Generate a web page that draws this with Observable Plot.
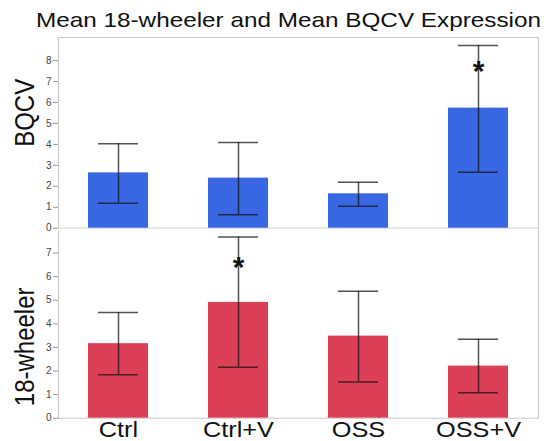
<!DOCTYPE html>
<html>
<head>
<meta charset="utf-8">
<script src="https://cdn.jsdelivr.net/npm/d3@7"></script>
<script src="https://cdn.jsdelivr.net/npm/@observablehq/plot@0.6"></script>
<style>
  body { margin: 0; background: #fff; }
  #wrap { position: relative; width: 552px; height: 441px; overflow: hidden; font-family: "Liberation Sans", Arial, sans-serif; }
  #title { position: absolute; left: 36px; top: 9px; font-size: 21px; line-height: 21px; color: #111; transform-origin: left center; white-space: nowrap; display: inline-block; }
  #top { position: absolute; left: 0; top: 30px; }
  #bottom { position: absolute; left: 0; top: 229px; }
  #top svg { overflow: visible; }
</style>
</head>
<body>
<div id="wrap">
  <span id="title">Mean 18-wheeler and Mean BQCV Expression</span>
  <div id="top"></div>
  <div id="bottom"></div>
</div>
<script>
const categories = ["Ctrl", "Ctrl+V", "OSS", "OSS+V"];

const bqcvMean = [2.64, 2.39, 1.64, 5.73];
const bqcvLow  = [1.19, 0.64, 1.05, 2.67];
const bqcvHigh = [4.03, 4.09, 2.19, 8.72];
const bqcvSig  = ["", "", "", "*"];

const wheelerMean = [3.16, 4.91, 3.48, 2.21];
const wheelerLow  = [1.84, 2.16, 1.53, 1.08];
const wheelerHigh = [4.48, 7.68, 5.38, 3.35];
const wheelerSig  = ["", "*", "", ""];

const bqcvTicks = [0, 1, 2, 3, 4, 5, 6, 7, 8];
const wheelerTicks = [0, 1, 2, 3, 4, 5, 6, 7];

const rowsOf = (mean, low, high, sig) =>
  categories.map((cat, i) => ({cat, mean: mean[i], low: low[i], high: high[i], sig: sig[i]}));

function panel({rows, label, color, domain, ticks, height, marginTop, marginBottom, showX, edgeValue, edgeColor, labelDy, sigDy}) {
  const errStyle = {stroke: "#111", strokeOpacity: 0.72, strokeWidth: 1.5};
  const svg = Plot.plot({
    width: 552, height, marginLeft: 58, marginRight: 14, marginTop, marginBottom,
    style: {background: "transparent", fontFamily: "'Liberation Sans', Arial, sans-serif"},
    x: {domain: categories, paddingInner: 0.5, paddingOuter: 0.25, axis: null},
    y: {domain, axis: null},
    marks: [
      Plot.frame({stroke: "#c6c6c6"}),
      Plot.ruleY([edgeValue], {stroke: edgeColor, strokeWidth: 2}),
      Plot.barY(rows, {x: "cat", y: "mean", fill: color}),
      Plot.ruleX(rows, {x: "cat", y1: "low", y2: "high", ...errStyle}),
      Plot.tickY(rows, {x: "cat", y: "high", inset: 10, ...errStyle}),
      Plot.tickY(rows, {x: "cat", y: "low", inset: 10, ...errStyle}),
      Plot.text(rows.filter(d => d.sig), {x: "cat", y: "high", text: "sig", dy: sigDy, fontSize: 30, fontWeight: "bold", fill: "#111"}),
      Plot.axisY({ticks, tickSize: 5, tickPadding: 2, fontSize: 10, stroke: "#999", fill: "#444", label: null}),
      showX ? Plot.axisX({tickSize: 0, tickPadding: 3, fontSize: 22, fill: "#111", label: null}) : null,
      Plot.text([label], {frameAnchor: "left", textAnchor: "middle", lineAnchor: "bottom", dx: -25, dy: labelDy, rotate: -90, fontSize: 24, fill: "#111"})
    ]
  });
  // horizontal stretch like the reference
  svg.querySelectorAll('[aria-label="x-axis tick label"] text').forEach(t => {
    t.setAttribute("transform", (t.getAttribute("transform") || "") + " scale(1.15,1)");
  });
  svg.querySelectorAll('text').forEach(t => {
    const tr = t.getAttribute("transform") || "";
    if (tr.includes("rotate(-90)")) t.setAttribute("transform", tr + " scale(1,1.12)");
  });
  return svg;
}

document.getElementById("top").append(panel({
  rows: rowsOf(bqcvMean, bqcvLow, bqcvHigh, bqcvSig),
  label: "BQCV", color: "#3967e4", domain: [0, 9.1], ticks: bqcvTicks,
  height: 200, marginTop: 7, marginBottom: 2.3, showX: false,
  edgeValue: 0, edgeColor: "#e6e6e6", labelDy: -20, sigDy: 26
}));

document.getElementById("bottom").append(panel({
  rows: rowsOf(wheelerMean, wheelerLow, wheelerHigh, wheelerSig),
  label: "18-wheeler", color: "#dc4057", domain: [0, 8], ticks: wheelerTicks,
  height: 212, marginTop: 0, marginBottom: 23.3, showX: true,
  edgeValue: 8, edgeColor: "#ffffff", labelDy: 23, sigDy: 30
}));

// stretch the title to the reference's width (x 36 to 541)
const title = document.getElementById("title");
const w = title.getBoundingClientRect().width;
title.style.transform = `scaleX(${505 / w})`;
</script>
</body>
</html>
